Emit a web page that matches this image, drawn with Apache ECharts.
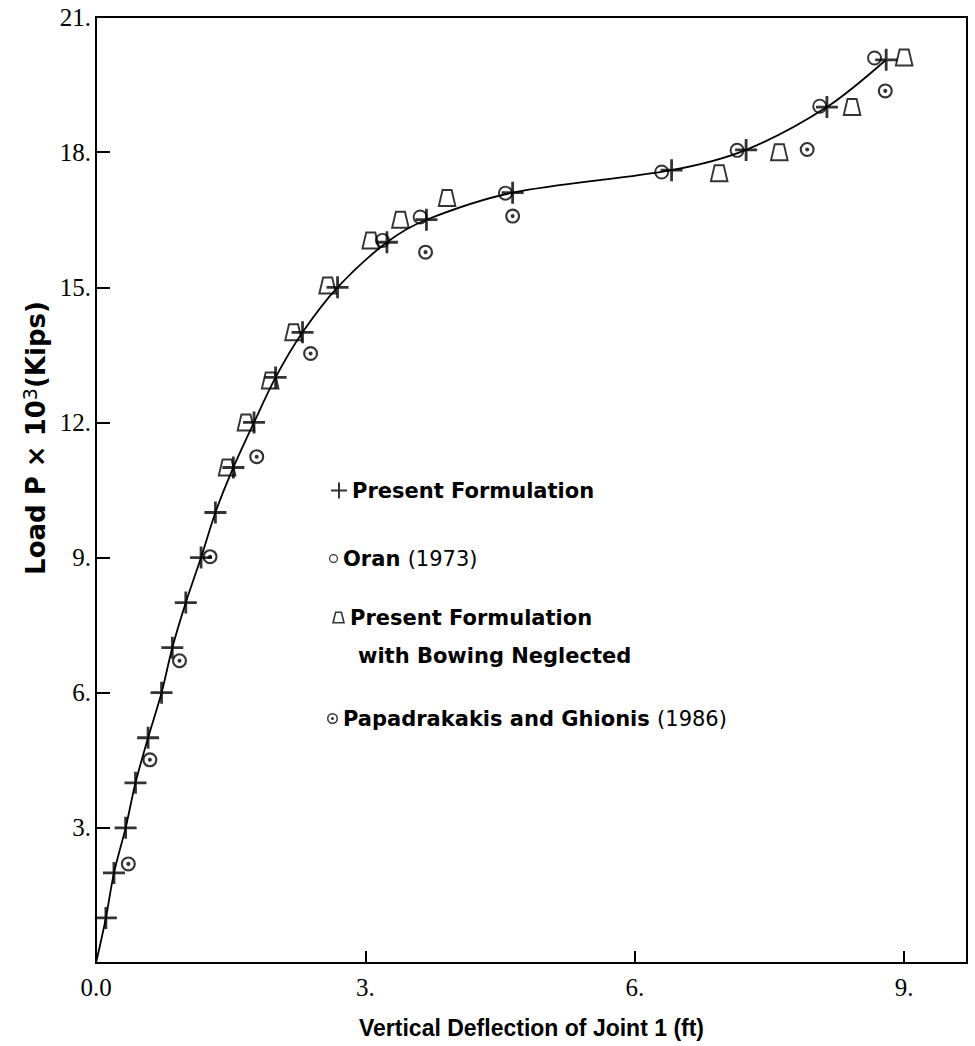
<!DOCTYPE html>
<html>
<head>
<meta charset="utf-8">
<script src="https://cdn.jsdelivr.net/npm/echarts@6/dist/echarts.min.js"></script>
<style>
html,body{margin:0;padding:0;background:#fff;}
#chart{width:975px;height:1046px;}
</style>
</head>
<body>
<div id="chart"></div>
<script>
// ---- data ----
var presentX = [0.11,0.2,0.33,0.44,0.58,0.73,0.85,1.0,1.17,1.33,1.53,1.76,2.0,2.3,2.69,3.24,3.68,4.64,6.41,7.24,8.14,8.8];
var presentY = [1,2,3,4,5,6,7,8,9,10,11,12,13,14,15,16,16.5,17.1,17.6,18.05,19.0,20.05];
var oranX = [3.19,3.61,4.56,6.3,7.14,8.06,8.67];
var oranY = [16.04,16.56,17.09,17.56,18.04,19.02,20.09];
var bowX = [1.46,1.67,1.94,2.2,2.58,3.06,3.39,3.91,6.94,7.61,8.42,9.0];
var bowY = [11.0,12.0,12.93,14.0,15.04,16.04,16.5,16.98,17.53,18.0,19.0,20.1];
var papaX = [0.36,0.6,0.93,1.27,1.79,2.39,3.67,4.64,7.92,8.79];
var papaY = [2.2,4.51,6.71,9.02,11.24,13.53,15.78,16.58,18.06,19.36];
var curveStart = [0, 0];
var xTicks = [0, 3, 6, 9];
var yTicks = [3, 6, 9, 12, 15, 18, 21];

var names = {
  present: 'Present Formulation',
  oran: 'Oran (1973)',
  bow: 'Present Formulation with Bowing Neglected',
  papa: 'Papadrakakis and Ghionis (1986)'
};

function pairs(xs, ys) { return xs.map(function (x, i) { return [x, ys[i]]; }); }

// symbols
var crossPath = 'path://M9.6,0h2.8v9.6h9.6v2.8h-9.6v9.6h-2.8v-9.6h-9.6v-2.8h9.6z';
var ringPath = 'path://M7,0A7,7,0,1,1,7,14A7,7,0,1,1,7,0ZM7,1.8A5.2,5.2,0,1,0,7,12.2A5.2,5.2,0,1,0,7,1.8Z';
var trapPath = 'path://M4,0L14,0L18,17L0,17ZM5.42,1.9L2.27,15.1L15.73,15.1L12.58,1.9Z';
var dotRingPath = 'path://M7,0A7,7,0,1,1,7,14A7,7,0,1,1,7,0ZM7,2A5,5,0,1,0,7,12A5,5,0,1,0,7,2ZM7,5.1A1.9,1.9,0,1,1,7,8.9A1.9,1.9,0,1,1,7,5.1Z';
// legend icons
var legCross = 'path://M7,0h2v7h7v2h-7v7h-2v-7h-7v-2h7z';
var legRing = 'path://M4.5,0A4.5,4.5,0,1,1,4.5,9A4.5,4.5,0,1,1,4.5,0ZM4.5,1.2A3.3,3.3,0,1,0,4.5,7.8A3.3,3.3,0,1,0,4.5,1.2Z';
var legTrap = 'path://M0,0M13,50M3,0L10,0L13,12L0,12ZM4.25,1.6L2.05,10.4L10.95,10.4L8.75,1.6Z';
var legDot = 'path://M5.5,0A5.5,5.5,0,1,1,5.5,11A5.5,5.5,0,1,1,5.5,0ZM5.5,1.5A4,4,0,1,0,5.5,9.5A4,4,0,1,0,5.5,1.5ZM5.5,4A1.5,1.5,0,1,1,5.5,7A1.5,1.5,0,1,1,5.5,4Z';

var ink = '#000';
var lf = 'DejaVu Sans';
var richLegend = {
  b: {fontFamily: lf, fontWeight: 'bold', fontSize: 21, color: ink, lineHeight: 30},
  r: {fontFamily: lf, fontWeight: 'normal', fontSize: 21, color: ink, lineHeight: 30},
  p1: {fontFamily: lf, fontWeight: 'bold', fontSize: 21, color: ink, lineHeight: 38},
  p2: {fontFamily: lf, fontWeight: 'bold', fontSize: 21, color: ink, lineHeight: 38, padding: [0, 0, 0, 8]}
};
function legendText(name) {
  if (name === names.present) return '{b|Present Formulation}';
  if (name === names.oran) return '{b|Oran }{r|(1973)}';
  if (name === names.bow) return '{p1|Present Formulation}\n{p2|with Bowing Neglected}';
  return '{b|Papadrakakis and Ghionis }{r|(1986)}';
}
function mkLegend(name, icon, w, h, left, top) {
  return {
    data: [{name: name, icon: icon}],
    left: left, top: top, padding: 0,
    itemWidth: w, itemHeight: h,
    selectedMode: false,
    formatter: legendText,
    textStyle: {rich: richLegend},
    itemStyle: {borderWidth: 0}
  };
}

var chart = echarts.init(document.getElementById('chart'), null, {renderer: 'svg'});
chart.setOption({
  backgroundColor: '#fff',
  animation: false,
  grid: {left: 96, right: 8, top: 17, bottom: 83, show: true, borderColor: ink, borderWidth: 2, backgroundColor: 'transparent'},
  legend: [
    mkLegend(names.present, legCross, 16, 16, 331, 480),
    mkLegend(names.oran, legRing, 9, 9, 329, 548),
    mkLegend(names.bow, legTrap, 13, 50, 332, 607),
    mkLegend(names.papa, legDot, 11, 11, 327, 708)
  ],
  xAxis: {
    type: 'value', min: 0, max: 9.7, interval: 3,
    name: 'Vertical Deflection of Joint 1 (ft)',
    nameLocation: 'middle', nameGap: 52,
    nameTextStyle: {fontFamily: 'Liberation Sans', fontWeight: 'bold', fontSize: 23, color: ink, lineHeight: 26},
    axisLine: {lineStyle: {color: ink, width: 2}},
    axisTick: {inside: true, length: 12, lineStyle: {color: ink, width: 2}},
    splitLine: {show: false},
    axisLabel: {
      margin: 12, showMaxLabel: false,
      fontFamily: 'Liberation Serif', fontSize: 25, color: ink,
      formatter: function (v) {
        if (v === 0) return '0.0';
        return xTicks.indexOf(v) >= 0 ? v + '.' : '';
      }
    }
  },
  yAxis: {
    type: 'value', min: 0, max: 21, interval: 3,
    name: '{b|Load P × 10}{s|3}{b|(Kips)}',
    nameLocation: 'middle', nameGap: 31, nameRotate: 90,
    nameTextStyle: {
      padding: [0, 0, 0, 104],
      rich: {
        b: {fontFamily: lf, fontWeight: 'bold', fontSize: 26, color: ink, lineHeight: 30},
        s: {fontFamily: lf, fontWeight: 'normal', fontSize: 19, color: ink, lineHeight: 30, verticalAlign: 'top'}
      }
    },
    axisLine: {lineStyle: {color: ink, width: 2}},
    axisTick: {inside: true, length: 14, lineStyle: {color: ink, width: 2}},
    splitLine: {show: false},
    axisLabel: {
      margin: 5,
      fontFamily: 'Liberation Serif', fontSize: 25, color: ink,
      formatter: function (v) { return yTicks.indexOf(v) >= 0 ? v + '.' : ''; }
    }
  },
  series: [
    {
      name: 'curve', type: 'line', smooth: 0.3, showSymbol: false, silent: true,
      lineStyle: {color: ink, width: 1.8},
      data: [curveStart].concat(pairs(presentX, presentY)),
      z: 1
    },
    {
      name: names.present, type: 'scatter', symbol: crossPath, symbolSize: [22, 22],
      itemStyle: {color: ink}, data: pairs(presentX, presentY), z: 3
    },
    {
      name: names.oran, type: 'scatter', symbol: ringPath, symbolSize: 15,
      itemStyle: {color: ink}, data: pairs(oranX, oranY), z: 3
    },
    {
      name: names.bow, type: 'scatter', symbol: trapPath, symbolSize: [19, 18],
      itemStyle: {color: ink}, data: pairs(bowX, bowY), z: 3
    },
    {
      name: names.papa, type: 'scatter', symbol: dotRingPath, symbolSize: 15,
      itemStyle: {color: ink}, data: pairs(papaX, papaY), z: 3
    }
  ]
});
</script>
</body>
</html>
